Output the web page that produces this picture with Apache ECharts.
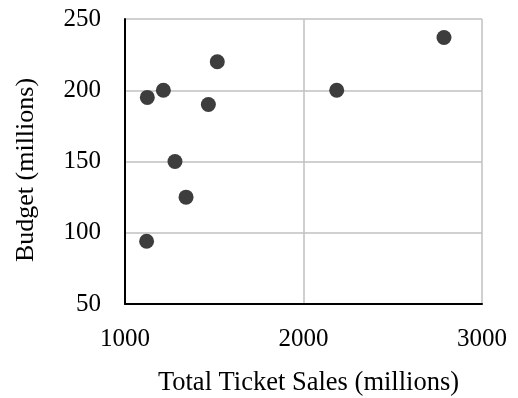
<!DOCTYPE html>
<html>
<head>
<meta charset="utf-8">
<script src="https://cdn.jsdelivr.net/npm/echarts@6/dist/echarts.min.js"></script>
<style>
  html, body { margin: 0; padding: 0; background: #fff; }
  #chart { width: 518px; height: 398px; }
</style>
</head>
<body>
<div id="chart"></div>
<script>
// Total ticket sales vs. budget, both in millions
const ticketSales = [2787, 1517, 1215, 1125, 1467, 2186, 1280, 1342, 1121];
const budgets     = [237,  220,  200,  195,  190,  200,  150,  125,  94];

const xTicks = [1000, 2000, 3000];
const yTicks = [50, 100, 150, 200, 250];

const xTitle = 'Total Ticket Sales (millions)';
const yTitle = 'Budget (millions)';

const points = ticketSales.map((x, i) => [x, budgets[i]]);

const font = '"Liberation Serif", "Times New Roman", serif';
const chart = echarts.init(document.getElementById('chart'), null, { renderer: 'canvas' });

chart.setOption({
  animation: false,
  backgroundColor: '#ffffff',
  grid: { left: 125, right: 36, top: 19, bottom: 94, containLabel: false },
  xAxis: {
    type: 'value',
    min: xTicks[0],
    max: xTicks[xTicks.length - 1],
    interval: xTicks[1] - xTicks[0],
    axisLine: { show: true, onZero: false, lineStyle: { color: '#000', width: 2 } },
    axisTick: { show: false },
    axisLabel: {
      color: '#000', fontFamily: font, fontSize: 25, margin: 23,
      formatter: v => String(v)
    },
    splitLine: { show: true, lineStyle: { color: '#c0c0c0', width: 1.5 } }
  },
  yAxis: {
    type: 'value',
    min: yTicks[0],
    max: yTicks[yTicks.length - 1],
    interval: yTicks[1] - yTicks[0],
    axisLine: { show: true, onZero: false, lineStyle: { color: '#000', width: 2 } },
    axisTick: { show: false },
    axisLabel: {
      color: '#000', fontFamily: font, fontSize: 25, margin: 24,
      formatter: v => String(v)
    },
    splitLine: { show: true, lineStyle: { color: '#c0c0c0', width: 1.5 } }
  },
  graphic: [
    {
      type: 'text',
      x: 308.5, y: 383,
      style: {
        text: xTitle,
        x: 0, y: 0,
        align: 'center', verticalAlign: 'middle',
        font: '26.5px ' + font, fill: '#000'
      }
    },
    {
      type: 'text',
      x: 26, y: 170,
      rotation: Math.PI / 2,
      style: {
        text: yTitle,
        x: 0, y: 0,
        align: 'center', verticalAlign: 'middle',
        font: '26px ' + font, fill: '#000'
      }
    }
  ],
  series: [{
    type: 'scatter',
    data: points,
    symbol: 'circle',
    symbolSize: 15,
    itemStyle: { color: '#3d3d3d', opacity: 1 }
  }]
});
</script>
</body>
</html>
